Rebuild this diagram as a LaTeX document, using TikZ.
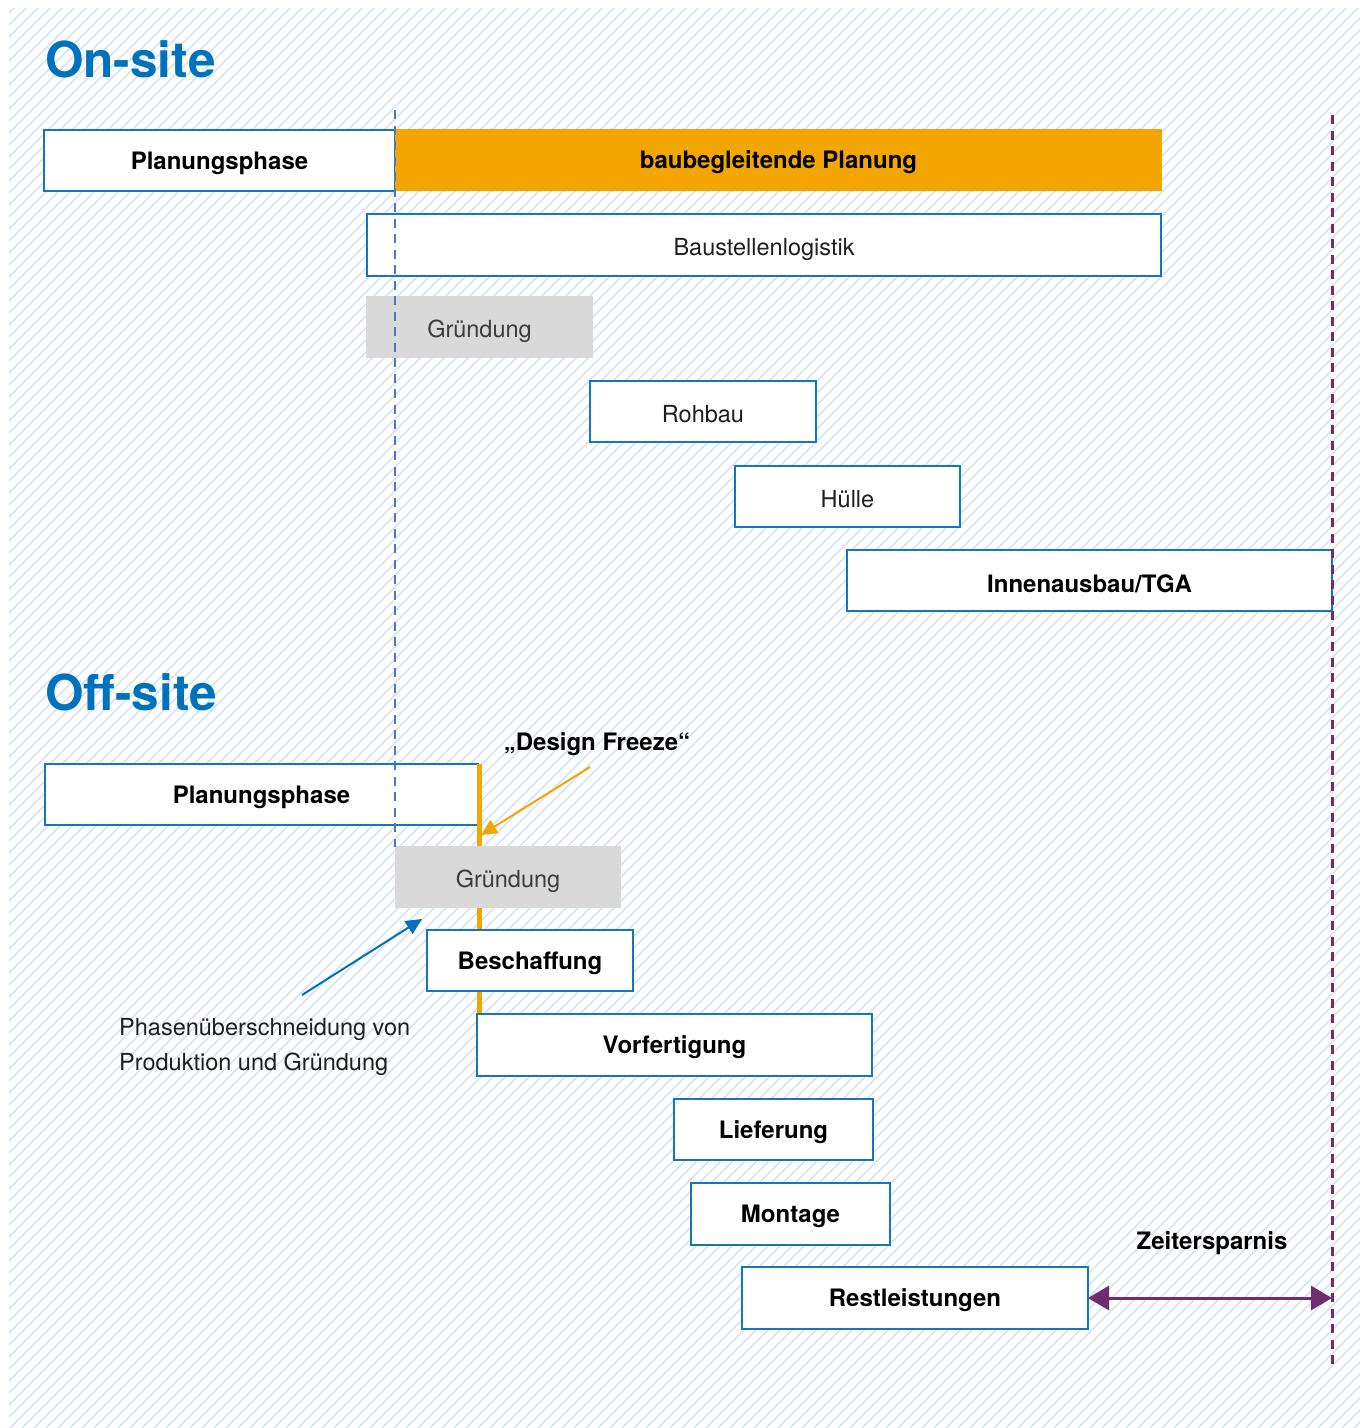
\documentclass[tikz,border=0pt]{standalone}
\usepackage{fontspec}
\setmainfont{TeX Gyre Heros}
\usetikzlibrary{arrows.meta}
\definecolor{tblue}{RGB}{0,114,188}
\definecolor{bblue}{RGB}{20,118,190}
\definecolor{dblue}{RGB}{80,118,196}
\definecolor{orng}{RGB}{243,166,0}
\definecolor{purp}{RGB}{112,44,112}
\definecolor{hatchc}{RGB}{214,227,246}
\definecolor{gbox}{RGB}{217,217,217}
\definecolor{txt}{RGB}{30,30,30}
\definecolor{gtxt}{RGB}{60,60,60}
\begin{document}
\begin{tikzpicture}[x=1pt,y=-1pt,
  box/.style={draw=bblue, line width=2pt, fill=white, inner sep=0pt, outer sep=0pt,
    text height=21pt, text depth=0pt,
    anchor=north west, font=\fontsize{23.5}{28}\selectfont, text=txt},
  boldbox/.style={box, text height=17pt, font=\fontsize{24}{28}\selectfont\bfseries, text=black},
  graybox/.style={box, draw=none, fill=gbox, text=gtxt},
  title/.style={anchor=base west, inner sep=0pt, text=tblue, font=\fontsize{49.5}{58}\selectfont\bfseries},
  lbl/.style={inner sep=0pt, font=\fontsize{24}{28}\selectfont\bfseries, text=black},
  note/.style={inner sep=0pt, anchor=base west, font=\fontsize{23.5}{28}\selectfont, text=txt},
  bluedash/.style={draw=dblue, line width=2.8pt, dash pattern=on 9pt off 6.5pt},
  purpdash/.style={draw=purp, line width=3pt, dash pattern=on 9pt off 6.5pt},
]
\useasboundingbox (0,0) rectangle (1360,1428);
\fill[white] (0,0) rectangle (1360,1428);
\begin{scope}
  \clip (9,8) rectangle (1360,1428);
  \foreach \i in {0,...,240} {
    \draw[hatchc, line width=1.5pt] (\i*12-1430,1428) -- ++(1440,-1440);
  }
\end{scope}

% titles
\node[title] (onsite) at (45,77) {On-site};
\node[title] (offsite) at (45,710) {Off-site};

% on-site boxes
\node[boldbox, minimum width=351, minimum height=61] (onplan) at (44,130) {Planungsphase};
\node[boldbox, draw=none, fill=orng, minimum width=767, minimum height=62] (baubeg) at (395,129) {baubegleitende Planung};
\node[box, minimum width=794, minimum height=62] (logistik) at (367,214) {Baustellenlogistik};
\node[graybox, minimum width=227, minimum height=62] (ongruend) at (366,296) {Gründung};
\node[box, minimum width=226, minimum height=61] (rohbau) at (590,381) {Rohbau};
\node[box, minimum width=225, minimum height=61] (huelle) at (735,466) {Hülle};
\node[boldbox, text height=24pt, minimum width=485, minimum height=61] (innen) at (847,550) {Innenausbau/TGA};

% off-site
\node[boldbox, minimum width=433, minimum height=61] (offplan) at (45,764) {Planungsphase};
\coordinate (freezetop) at (479,764);
\coordinate (freezebot) at (479,1015);
\draw[orng, line width=5pt] (freezetop) -- (freezebot);
\node[graybox, minimum width=226, minimum height=62] (offgruend) at (395,846) {Gründung};
\node[boldbox, minimum width=206, minimum height=61] (besch) at (427,930) {Beschaffung};
\node[boldbox, minimum width=395, minimum height=62] (vorf) at (477,1014) {Vorfertigung};
\node[boldbox, minimum width=199, minimum height=61] (liefer) at (674,1099) {Lieferung};
\node[boldbox, minimum width=199, minimum height=62] (montage) at (691,1183) {Montage};
\node[boldbox, minimum width=346, minimum height=62] (rest) at (742,1267) {Restleistungen};

% dashed reference lines
\coordinate (btop) at (395,110);
\coordinate (bbot) at (395,847);
\draw[bluedash] (btop) -- (bbot);
\coordinate (ptop) at (1332,115);
\coordinate (pbot) at (1332,1365);
\draw[purpdash] (ptop) -- (pbot);

% design freeze
\node[lbl, anchor=base] (freeze) at (597,750) {„Design Freeze“};
\coordinate (ftail) at (590,767);
\coordinate (ftip) at (481,835);
\draw[orng, line width=2pt, -{Triangle[length=16pt,width=15pt]}] (ftail) -- (ftip);

% overlap note
\node[note] (note1) at (119,1035) {Phasenüberschneidung von};
\node[note] (note2) at (119,1070) {Produktion und Gründung};
\coordinate (ntail) at (302,995);
\coordinate (ntip) at (422,919);
\draw[tblue, line width=2pt, -{Triangle[length=16pt,width=15pt]}] (ntail) -- (ntip);

% time saving
\node[lbl, anchor=base] (zeit) at (1212,1249) {Zeitersparnis};
\draw[purp, line width=3pt, {Triangle[length=21pt,width=24pt]}-{Triangle[length=21pt,width=24pt]}] (rest.east) -- (rest.east -| ptop);
\end{tikzpicture}
\end{document}
